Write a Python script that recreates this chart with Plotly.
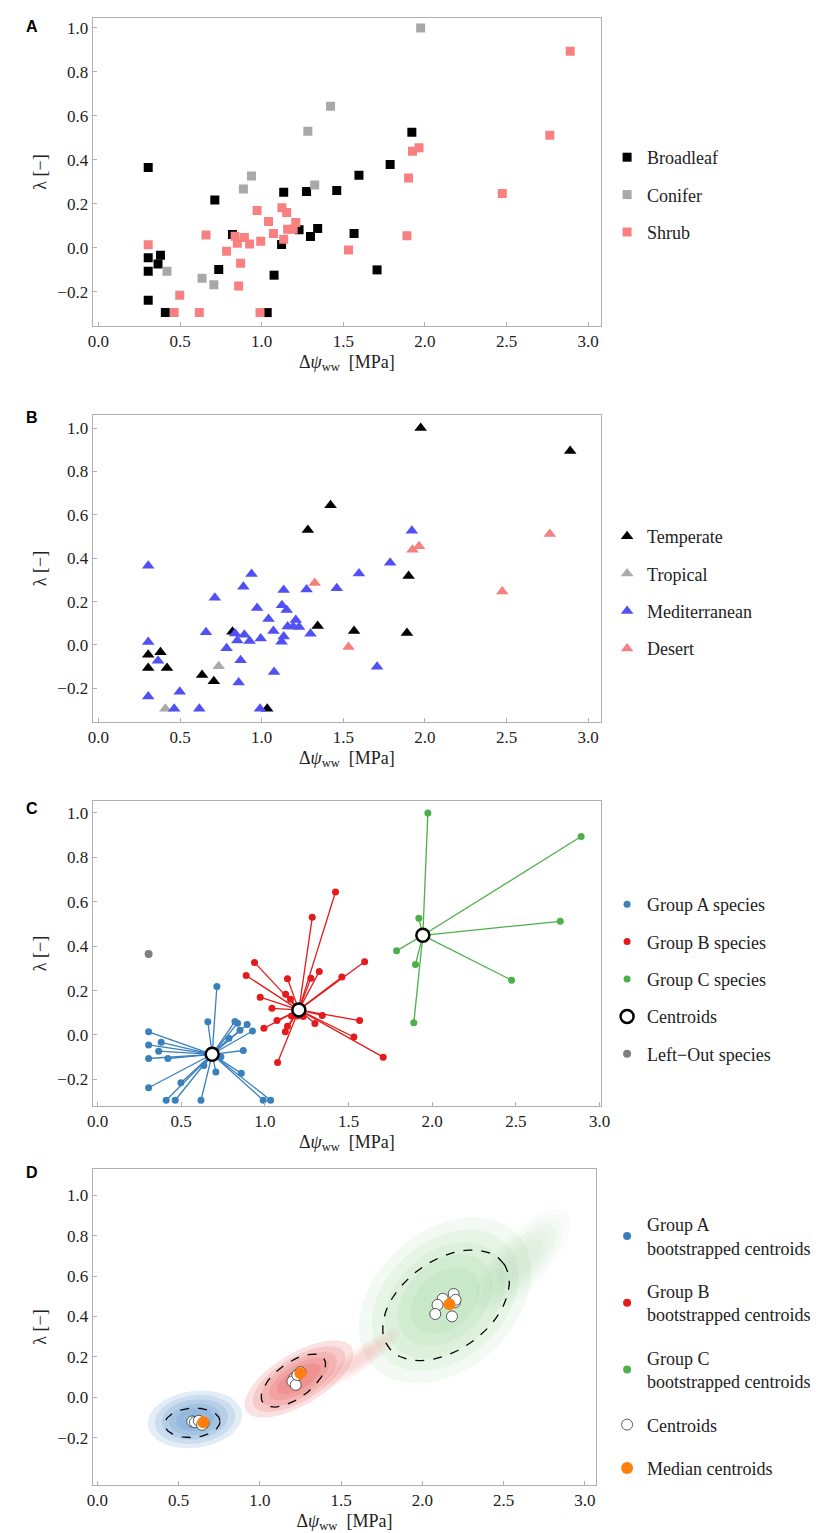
import numpy as np
import plotly.graph_objects as go

# ---------------- data (species) ----------------
sp_x = [0.305,0.713,1.135,1.275,1.46,1.596,1.787,1.92,0.821,1.229,1.343,1.299,1.122,1.566,0.305,0.38,0.365,0.305,0.737,1.076,1.707,0.305,0.41,1.034,
        1.974,1.422,1.283,0.938,0.888,1.325,0.42,0.635,0.707,
        2.89,2.765,1.964,1.924,1.9,2.474,1.89,0.305,0.659,0.972,1.124,1.153,1.042,1.209,1.159,1.193,1.072,0.837,0.894,0.851,0.926,0.994,1.135,0.785,1.532,0.871,0.859,0.498,0.464,0.618,0.99]
sp_y = [0.365,0.218,0.253,0.256,0.261,0.330,0.379,0.526,0.061,0.083,0.088,0.052,0.015,0.065,-0.045,-0.033,-0.073,-0.106,-0.098,-0.124,-0.1,-0.238,-0.294,-0.294,
        1.0,0.644,0.530,0.327,0.268,0.286,-0.106,-0.138,-0.167,
        0.894,0.512,0.455,0.439,0.318,0.247,0.055,0.014,0.059,0.170,0.183,0.161,0.120,0.115,0.085,0.085,0.065,0.053,0.047,0.021,0.018,0.030,0.039,-0.015,-0.009,-0.07,-0.173,-0.215,-0.294,-0.294,-0.294]
sp_type = ["Broadleaf"]*24 + ["Conifer"]*9 + ["Shrub"]*31
sp_climate = ["M","M","M","M","M","M","M","M","T","M","T","M","M","T","T","T","M","T","R","M","M","M","R","T",
              "T","T","T","M","M","D","T","T","T",
              "T","D","D","D","T","D","T","M","M","M","M","M","M","M","M","M","M","M","M","M","M","M","M","M","D","M","M","M","M","M","M"]
sp_group = ["L","A","B","B","B","B","C","C","A","B","B","B","B","B","A","A","A","A","A","B","B","A","A","A",
            "C","B","B","B","B","B","A","A","A",
            "C","C","C","C","C","C","C","A","A","B","B","B","B","B","B","B","B","A","A","A","A","B","B","A","B","A","A","A","A","A","A"]

types = ["Broadleaf", "Conifer", "Shrub"]
type_colors = ["#000000", "#a8a8a8", "#f98080"]
climates = ["T", "R", "M", "D"]
climate_names = ["Temperate", "Tropical", "Mediterranean", "Desert"]
climate_colors = ["#000000", "#aaaaaa", "#5050f5", "#f48080"]
groups = ["A", "B", "C"]
group_names = ["Group A species", "Group B species", "Group C species"]
group_colors = ["#3a80bd", "#e41a1c", "#4daf4a"]
centroid_x = [0.685, 1.203, 1.944]
centroid_y = [-0.087, 0.113, 0.449]

# panel D
bs_centroids_x = [0.584,0.600,0.624,0.655,0.644, 1.21,1.20,1.22,1.23,1.25, 2.125,2.192,2.093,2.079,2.182,2.200,2.204]
bs_centroids_y = [-0.120,-0.124,-0.117,-0.129,-0.137, 0.094,0.078,0.061,0.110,0.124, 0.487,0.511,0.457,0.412,0.400,0.470,0.482]
median_x = [0.652, 1.250, 2.166]
median_y = [-0.124, 0.119, 0.460]
# confidence ellipses: center, axis vectors (data units)
ell_c = [(0.584, -0.127), (1.206, 0.082), (2.145, 0.455)]
ell_u = [(0.170, 0.010), (0.188, 0.109), (0.357, 0.204)]
ell_v = [(-0.008, 0.072), (0.062, -0.073), (-0.156, 0.183)]
# bootstrapped cloud extents: center, axis vectors
cloud_c = [(0.60, -0.11), (1.24, 0.09), (2.14, 0.48), (1.62, 0.19), (2.62, 0.68)]
cloud_u = [(0.29, 0.03), (0.33, 0.15), (0.50, 0.26), (0.24, 0.14), (0.28, 0.22)]
cloud_v = [(-0.02, 0.14), (0.06, -0.12), (-0.18, 0.32), (0.03, -0.05), (-0.08, 0.12)]
cloud_col = ["58,128,189", "228,60,60", "90,180,90", "228,90,90", "90,180,90"]
cloud_op = [0.14, 0.15, 0.07, 0.05, 0.035]

FONT = "Liberation Serif, Times New Roman, DejaVu Serif, serif"
W, H = 831, 1533
fig = go.Figure()

def dom_y(top, bottom):
    return [1 - bottom / H, 1 - top / H]

frames = [(10, 318), (407, 714), (793, 1098), (1161, 1477)]
xranges = [[-0.036, 3.08], [-0.036, 3.08], [-0.03, 3.01], [-0.03, 3.07]]
yranges = [[-0.355, 1.045], [-0.355, 1.06], [-0.32, 1.054], [-0.435, 1.13]]
xd = [80 / W, 598 / W]
layout = dict(width=W, height=H, margin=dict(l=0, r=0, t=0, b=0),
              paper_bgcolor="white", plot_bgcolor="white",
              font=dict(family=FONT, size=16, color="#222"))
for i in range(4):
    s = "" if i == 0 else str(i + 1)
    layout["xaxis" + s] = dict(domain=[xd[0], 593 / W] if i == 3 else xd, range=xranges[i],
                               anchor="y" + s, tickvals=[0, 0.5, 1, 1.5, 2, 2.5, 3], tickformat=".1f",
                               showline=True, mirror=True, linecolor="#b0b0b0", linewidth=1,
                               ticks="inside", ticklen=4, tickcolor="#b0b0b0", showgrid=False, zeroline=False,
                               tickfont=dict(size=17, family=FONT),
                               title=dict(text="Δ<i>ψ</i><sub>ww</sub>  [MPa]", font=dict(size=18, family=FONT), standoff=4))
    layout["yaxis" + s] = dict(domain=dom_y(*frames[i]), range=yranges[i], anchor="x" + s,
                               tickvals=[-0.2, 0, 0.2, 0.4, 0.6, 0.8, 1.0], tickformat=".1f",
                               showline=True, mirror=True, linecolor="#b0b0b0", linewidth=1,
                               ticks="inside", ticklen=4, tickcolor="#b0b0b0", showgrid=False, zeroline=False,
                               tickfont=dict(size=17, family=FONT),
                               title=dict(text="λ [−]", font=dict(size=18, family=FONT), standoff=6))

legtops = [131, 510, 878, 1198]
gaps = [11, 11, 11, 17]
for i in range(4):
    key = "legend" if i == 0 else "legend" + str(i + 1)
    layout[key] = dict(x=604 / W, y=1 - legtops[i] / H, xanchor="left", yanchor="top",
                       font=dict(size=18, family=FONT, color="#222"), tracegroupgap=gaps[i],
                       traceorder="grouped", itemwidth=30, bgcolor="rgba(0,0,0,0)")

def leg(i):
    return "legend" if i == 0 else "legend" + str(i + 1)

# Panel A
for t, c in zip(types, type_colors):
    idx = [k for k in range(len(sp_x)) if sp_type[k] == t]
    fig.add_trace(go.Scatter(x=[sp_x[k] for k in idx], y=[sp_y[k] for k in idx], mode="markers", name=t,
                             marker=dict(symbol="square", size=9, color=c), legend=leg(0), legendgroup="a" + t,
                             xaxis="x", yaxis="y"))
# Panel B
for cl, nm, c in zip(climates, climate_names, climate_colors):
    idx = [k for k in range(len(sp_x)) if sp_climate[k] == cl]
    fig.add_trace(go.Scatter(x=[sp_x[k] for k in idx], y=[sp_y[k] for k in idx], mode="markers", name=nm,
                             marker=dict(symbol="triangle-up", size=11, color=c), legend=leg(1), legendgroup="b" + nm,
                             xaxis="x2", yaxis="y2"))
# Panel C
for g, nm, c, cx, cy in zip(groups, group_names, group_colors, centroid_x, centroid_y):
    idx = [k for k in range(len(sp_x)) if sp_group[k] == g]
    lx, ly = [], []
    for k in idx:
        lx += [cx, sp_x[k], None]
        ly += [cy, sp_y[k], None]
    fig.add_trace(go.Scatter(x=lx, y=ly, mode="lines", line=dict(color=c, width=1.3), showlegend=False,
                             xaxis="x3", yaxis="y3", hoverinfo="skip"))
    fig.add_trace(go.Scatter(x=[sp_x[k] for k in idx], y=[sp_y[k] for k in idx], mode="markers", name=nm,
                             marker=dict(size=7, color=c), legend=leg(2), legendgroup="c" + nm,
                             xaxis="x3", yaxis="y3"))
fig.add_trace(go.Scatter(x=centroid_x, y=centroid_y, mode="markers", name="Centroids",
                         marker=dict(size=13, color="white", line=dict(color="black", width=2.5)),
                         legend=leg(2), legendgroup="cCent", xaxis="x3", yaxis="y3"))
lo = [k for k in range(len(sp_x)) if sp_group[k] == "L"]
fig.add_trace(go.Scatter(x=[sp_x[k] for k in lo], y=[sp_y[k] for k in lo], mode="markers", name="Left−Out species",
                         marker=dict(size=8, color="#7f7f7f"), legend=leg(2), legendgroup="cLO",
                         xaxis="x3", yaxis="y3"))

# Panel D
t = np.linspace(0, 2 * np.pi, 120)
def ell(c, u, v, s=1.0):
    return (c[0] + s * (np.cos(t) * u[0] + np.sin(t) * v[0]),
            c[1] + s * (np.cos(t) * u[1] + np.sin(t) * v[1]))
for c, u, v, col, op in zip(cloud_c, cloud_u, cloud_v, cloud_col, cloud_op):
    for s in [1.0, 0.85, 0.7, 0.55, 0.4]:
        ex, ey = ell(c, u, v, s)
        fig.add_trace(go.Scatter(x=ex, y=ey, mode="lines", fill="toself", line=dict(width=0),
                                 fillcolor="rgba(%s,%.3f)" % (col, op), showlegend=False,
                                 hoverinfo="skip", xaxis="x4", yaxis="y4"))
for c, u, v in zip(ell_c, ell_u, ell_v):
    ex, ey = ell(c, u, v)
    fig.add_trace(go.Scatter(x=ex, y=ey, mode="lines", line=dict(color="black", width=1.3, dash="dash"),
                             showlegend=False, hoverinfo="skip", xaxis="x4", yaxis="y4"))
dnames = ["Group A<br>bootstrapped centroids", "Group B<br>bootstrapped centroids", "Group C<br>bootstrapped centroids"]
for nm, c in zip(dnames, group_colors):
    fig.add_trace(go.Scatter(x=[None], y=[None], mode="markers", name=nm, marker=dict(size=8, color=c),
                             legend=leg(3), legendgroup="d" + nm, xaxis="x4", yaxis="y4"))
fig.add_trace(go.Scatter(x=bs_centroids_x, y=bs_centroids_y, mode="markers", name="Centroids",
                         marker=dict(size=11, color="white", line=dict(color="#333", width=0.8)),
                         legend=leg(3), legendgroup="dCent", xaxis="x4", yaxis="y4"))
fig.add_trace(go.Scatter(x=median_x, y=median_y, mode="markers", name="Median centroids",
                         marker=dict(size=12, color="#ff7f0e"),
                         legend=leg(3), legendgroup="dMed", xaxis="x4", yaxis="y4"))

ann = []
for lab, py in zip("ABCD", [18, 409, 800, 1164]):
    ann.append(dict(text="<b>%s</b>" % lab, x=10 / W, y=1 - py / H, xref="paper", yref="paper",
                    xanchor="left", yanchor="middle", showarrow=False,
                    font=dict(family="Liberation Sans", size=16, color="black")))
layout["annotations"] = ann
fig.update_layout(**layout)
fig.write_html("out.html")
